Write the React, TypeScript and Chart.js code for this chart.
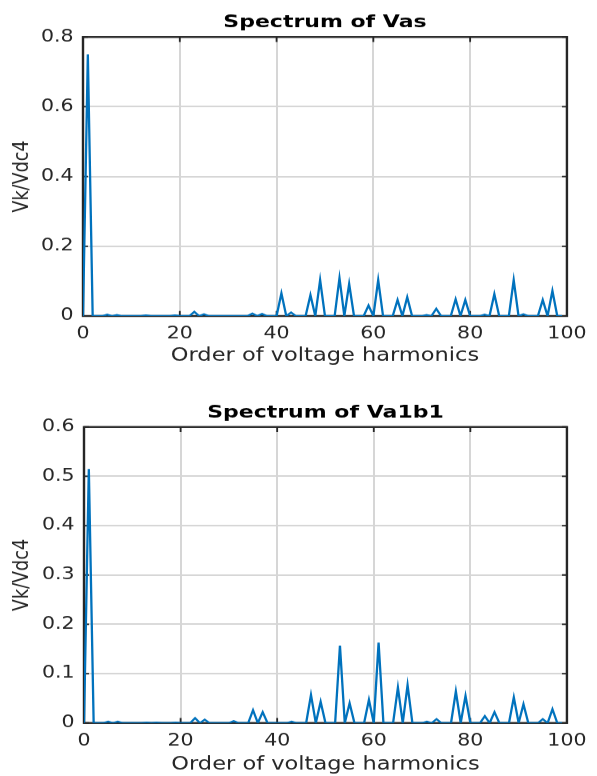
import React, { useEffect, useRef } from "react";
import { Chart, registerables } from "chart.js";

Chart.register(...registerables);

// ---------- data ----------
const harmonics = [
  0, 1, 2, 3, 4, 5, 6, 7, 8, 9,
  10, 11, 12, 13, 14, 15, 16, 17, 18, 19,
  20, 21, 22, 23, 24, 25, 26, 27, 28, 29,
  30, 31, 32, 33, 34, 35, 36, 37, 38, 39,
  40, 41, 42, 43, 44, 45, 46, 47, 48, 49,
  50, 51, 52, 53, 54, 55, 56, 57, 58, 59,
  60, 61, 62, 63, 64, 65, 66, 67, 68, 69,
  70, 71, 72, 73, 74, 75, 76, 77, 78, 79,
  80, 81, 82, 83, 84, 85, 86, 87, 88, 89,
  90, 91, 92, 93, 94, 95, 96, 97, 98, 99,
];

const vasValues = [
  0, 0.75, 0, 0, 0, 0.004, 0, 0.003, 0, 0,
  0, 0, 0, 0.002, 0, 0, 0, 0, 0, 0.002,
  0, 0, 0, 0.012, 0, 0.005, 0, 0, 0, 0,
  0, 0, 0, 0, 0, 0.007, 0, 0.006, 0, 0,
  0, 0.065, 0, 0.01, 0, 0, 0, 0.06, 0, 0.103,
  0, 0, 0, 0.109, 0, 0.092, 0, 0, 0, 0.03,
  0, 0.103, 0, 0, 0, 0.046, 0, 0.054, 0, 0,
  0, 0.003, 0, 0.021, 0, 0, 0, 0.048, 0, 0.046,
  0, 0, 0, 0.004, 0, 0.063, 0, 0, 0, 0.103,
  0, 0.005, 0, 0, 0, 0.046, 0, 0.072, 0, 0,
];

const va1b1Values = [
  0, 0.515, 0, 0, 0, 0.003, 0, 0.003, 0, 0,
  0, 0, 0, 0.001, 0, 0.001, 0, 0, 0, 0.001,
  0, 0, 0, 0.01, 0, 0.007, 0, 0, 0, 0,
  0, 0.004, 0, 0, 0, 0.026, 0, 0.022, 0, 0,
  0, 0, 0, 0.003, 0, 0, 0, 0.057, 0, 0.043,
  0, 0, 0, 0.157, 0, 0.04, 0, 0, 0, 0.047,
  0, 0.163, 0, 0, 0, 0.072, 0, 0.077, 0, 0,
  0, 0.003, 0, 0.008, 0, 0, 0, 0.064, 0, 0.055,
  0, 0, 0, 0.014, 0, 0.022, 0, 0, 0, 0.052,
  0, 0.038, 0, 0, 0, 0.008, 0, 0.028, 0, 0,
];

const xTicks = [0, 20, 40, 60, 80, 100];
const vasYTicks = [0, 0.2, 0.4, 0.6, 0.8];
const va1b1YTicks = [0, 0.1, 0.2, 0.3, 0.4, 0.5, 0.6];

const vasTitle = "Spectrum of Vas";
const va1b1Title = "Spectrum of Va1b1";
const xTitle = "Order of voltage harmonics";
const yTitle = "Vk/Vdc4";

// ---------- layout / style ----------
const W = 597;
const PANEL_H = 388;
const S = 0.8; // vertical squash of the whole picture
const LH = PANEL_H / S;
const FONT = "'DejaVu Sans', sans-serif";
const LINE_COLOR = "#0072BD";
const AXIS_COLOR = "#262626";
const GRID_COLOR = "#d6d6d6";

interface PanelProps {
  top: number;
  title: string;
  values: number[];
  yTicks: number[];
  left: number;
  right: number;
  titlePadTop: number;
  titlePadBottom: number;
  xScaleHeight: number;
  padBottom: number;
}

const framePlugin = {
  id: "matlabFrame",
  beforeDatasetsDraw(chart: any) {
    const { ctx, chartArea, scales } = chart;
    const { left, right, top, bottom } = chartArea;
    ctx.save();
    ctx.strokeStyle = AXIS_COLOR;
    ctx.lineWidth = 1.8;
    const tx = 5;
    const ty = 5 / S;
    ctx.beginPath();
    scales.x.ticks.forEach((t: any) => {
      const px = scales.x.getPixelForValue(t.value);
      ctx.moveTo(px, bottom);
      ctx.lineTo(px, bottom - ty);
      ctx.moveTo(px, top);
      ctx.lineTo(px, top + ty);
    });
    scales.y.ticks.forEach((t: any) => {
      const py = scales.y.getPixelForValue(t.value);
      ctx.moveTo(left, py);
      ctx.lineTo(left + tx, py);
      ctx.moveTo(right, py);
      ctx.lineTo(right - tx, py);
    });
    ctx.stroke();
    ctx.lineWidth = 2.4;
    ctx.strokeRect(left, top, right - left, bottom - top);
    ctx.restore();
  },
};

const centerTitlePlugin = {
  id: "centerTitle",
  afterLayout(chart: any) {
    const tb = chart.titleBlock;
    if (tb) {
      tb.left = chart.chartArea.left;
      tb.right = chart.chartArea.right;
    }
  },
};

function Panel(p: PanelProps) {
  const ref = useRef<HTMLCanvasElement | null>(null);
  useEffect(() => {
    if (!ref.current) return;
    const padLeft = 8.8;
    const chart = new Chart(ref.current, {
      type: "line",
      data: {
        datasets: [
          {
            data: harmonics.map((h, i) => ({ x: h, y: p.values[i] })),
            borderColor: LINE_COLOR,
            borderWidth: 2.3,
            pointRadius: 0,
            tension: 0,
            fill: false,
          },
        ],
      },
      options: {
        responsive: false,
        animation: false,
        layout: {
          padding: { left: padLeft, right: W - p.right, top: 0, bottom: p.padBottom },
        },
        plugins: {
          legend: { display: false },
          tooltip: { enabled: false },
          title: {
            display: true,
            text: p.title,
            color: "#000000",
            font: { family: FONT, size: 22, weight: "bold", lineHeight: 1.2 },
            padding: { top: p.titlePadTop, bottom: p.titlePadBottom },
          },
        },
        scales: {
          x: {
            type: "linear",
            min: 0,
            max: 100,
            afterBuildTicks: (s: any) => {
              s.ticks = xTicks.map((v) => ({ value: v }));
            },
            grid: { color: GRID_COLOR, lineWidth: 2, drawTicks: false },
            border: { display: false },
            ticks: {
              padding: 10.5,
              color: AXIS_COLOR,
              font: { family: FONT, size: 20.5 },
              maxRotation: 0,
              autoSkip: false,
            },
            title: {
              display: true,
              text: xTitle,
              color: AXIS_COLOR,
              font: { family: FONT, size: 22.5, lineHeight: 1.2 },
              padding: 0,
            },
            afterFit: (s: any) => {
              s.height = p.xScaleHeight;
            },
          },
          y: {
            type: "linear",
            min: 0,
            max: p.yTicks[p.yTicks.length - 1],
            afterBuildTicks: (s: any) => {
              s.ticks = p.yTicks.map((v) => ({ value: v }));
            },
            grid: { color: GRID_COLOR, lineWidth: 2, drawTicks: false },
            border: { display: false },
            ticks: {
              padding: 9.5,
              color: AXIS_COLOR,
              font: { family: FONT, size: 20.5 },
              callback: (v: any) => String(Math.round(Number(v) * 10) / 10),
            },
            title: {
              display: true,
              text: yTitle,
              color: AXIS_COLOR,
              font: { family: FONT, size: 22, lineHeight: 1.2 },
              padding: 0,
            },
            afterFit: (s: any) => {
              s.width = p.left - padLeft;
            },
          },
        },
      } as any,
      plugins: [framePlugin, centerTitlePlugin],
    });
    return () => chart.destroy();
  }, []);

  return (
    <div
      style={{
        position: "absolute",
        left: 0,
        top: p.top,
        width: W,
        height: LH,
        transform: `scaleY(${S})`,
        transformOrigin: "0 0",
      }}
    >
      <canvas ref={ref} width={W} height={LH} style={{ display: "block" }} />
    </div>
  );
}

export default function App() {
  return (
    <div
      style={{
        position: "absolute",
        left: 0,
        top: 0,
        width: W,
        height: PANEL_H * 2,
        background: "#ffffff",
        overflow: "hidden",
      }}
    >
      <Panel
        top={0}
        title={vasTitle}
        values={vasValues}
        yTicks={vasYTicks}
        left={83}
        right={569}
        titlePadTop={15.5}
        titlePadBottom={4.35}
        xScaleHeight={63.2}
        padBottom={26.8}
      />
      <Panel
        top={PANEL_H}
        title={va1b1Title}
        values={va1b1Values}
        yTicks={va1b1YTicks}
        left={84}
        right={577}
        titlePadTop={18.05}
        titlePadBottom={4.3}
        xScaleHeight={65.7}
        padBottom={0.55}
      />
    </div>
  );
}
